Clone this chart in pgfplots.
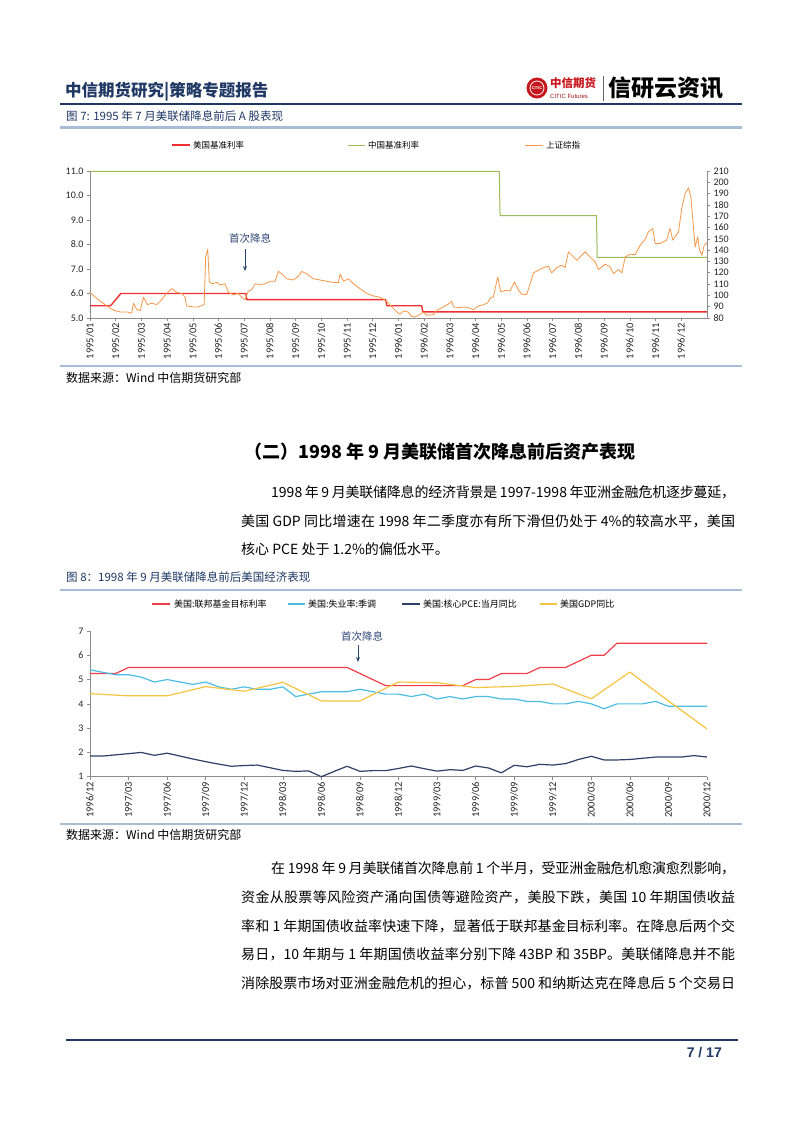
\documentclass[border=0pt]{standalone}
\usepackage{fontspec}
\usepackage{pgfplots}
\pgfplotsset{compat=1.18}
\usetikzlibrary{arrows.meta}
\setmainfont{Liberation Sans}
\newfontfamily\cjk{Noto Sans CJK SC}
\newfontfamily\carlito{Carlito}
\newfontfamily\tms{Liberation Serif}

% glue between CJK characters so that lines can be justified
\XeTeXinterchartokenstate=1
\newXeTeXintercharclass\cjkcls
\def\setcls#1#2{\count255=#1\relax\loop\XeTeXcharclass\count255=\cjkcls\relax\ifnum\count255<#2\relax\advance\count255 by 1\repeat}
\setcls{"3000}{"303F}
\setcls{"4E00}{"9FFF}
\setcls{"FF00}{"FFEF}
\XeTeXinterchartoks\cjkcls\cjkcls={\hskip0pt plus .2em minus .03em\relax}

\definecolor{navytext}{HTML}{1F3864}
\definecolor{band}{HTML}{A7BCD6}
\definecolor{axgray}{HTML}{8C8C8C}
\definecolor{redA}{HTML}{F03030}
\definecolor{greenA}{HTML}{9BBB59}
\definecolor{orangeA}{HTML}{F79646}
\definecolor{redB}{HTML}{EE3F4B}
\definecolor{cyanB}{HTML}{4DBDE6}
\definecolor{navyB}{HTML}{2F3F66}
\definecolor{yellowB}{HTML}{F6C342}
\definecolor{logored}{HTML}{C8161D}
\definecolor{annot}{HTML}{2E4676}

\pgfplotsset{
  pg/.style={scale only axis, width=617pt, xmin=0,
    axis line style={draw=axgray, line width=0.6pt},
    tick style={draw=axgray, line width=0.6pt},
    tick align=outside, major tick length=3pt,
    yticklabel style={font=\carlito\fontsize{10}{11}\selectfont, text=black!85},
    xticklabel style={font=\carlito\fontsize{10.5}{11}\selectfont, text=black!85, rotate=90, anchor=east, inner sep=2pt},
    /pgf/number format/assume math mode=true,
    clip=false,
    every axis plot/.append style={line join=round, no marks, sharp plot}},
}

\begin{document}
\begin{tikzpicture}
\begin{scope}[x=1pt,y=-1pt]
\fill[white] (0,0) rectangle (802,1133);

% header
\node[anchor=west, inner sep=0, text=navytext, font=\cjk\bfseries\fontsize{16.5}{18}\selectfont] at (65,92) {中信期货研究|策略专题报告};
\fill[logored] (537,88) circle (10.5);
\draw[white, line width=0.8pt] (537,88) circle (7);
\node[white, font=\bfseries\fontsize{4}{4}\selectfont, inner sep=0] at (537,88) {CITIC};
\node[anchor=west, inner sep=0, text=logored, font=\cjk\bfseries\fontsize{11.5}{12}\selectfont] at (550,83) {中信期货};
\node[anchor=west, inner sep=0, text=logored!80!black, font=\fontsize{6}{6}\selectfont] at (550,96) {CITIC Futures};
\draw[black!60, line width=0.8pt] (603,76) -- (603,101);
\node[anchor=west, inner sep=0, font=\cjk\bfseries\fontsize{23}{24}\selectfont] at (608,88) {信研云资讯};
\draw[navytext, line width=1.5pt] (60,104) -- (742,104);

% figure 7 caption
\node[anchor=west, inner sep=0, text=navytext, font=\cjk\fontsize{11.5}{12}\selectfont] at (66,116) {图 7: 1995 年 7 月美联储降息前后 A 股表现};
\draw[band, line width=2.5pt] (60,127.5) -- (742,127.5);

% legend of figure 7
\draw[redA, line width=1.4pt] (172,145) -- (190,145);
\node[anchor=west, inner sep=0, font=\cjk\fontsize{8.5}{9}\selectfont] at (193,145) {美国基准利率};
\draw[greenA, line width=1pt] (348,145) -- (365,145);
\node[anchor=west, inner sep=0, font=\cjk\fontsize{8.5}{9}\selectfont] at (368,145) {中国基准利率};
\draw[orangeA, line width=1pt] (525,145) -- (543,145);
\node[anchor=west, inner sep=0, font=\cjk\fontsize{8.5}{9}\selectfont] at (546,145) {上证综指};

% annotation of figure 7
\node[text=annot, font=\cjk\fontsize{10.5}{11}\selectfont] at (250,238) {首次降息};
\draw[annot, line width=0.8pt, -{Stealth[length=5pt,width=4pt]}] (245,249) -- (245,271);

\draw[band, line width=2.5pt] (60,366) -- (742,366);
\node[anchor=west, inner sep=0, font=\cjk\fontsize{12}{13}\selectfont] at (66,378) {数据来源：Wind 中信期货研究部};

% section heading and first paragraph
\node[anchor=west, inner sep=0, font=\cjk\bfseries\fontsize{18}{20}\selectfont] at (244,452) {（二）1998 年 9 月美联储首次降息前后资产表现};
\node[anchor=west, inner sep=0, font=\cjk\fontsize{14}{16}\selectfont] at (271,492) {\hbox to 464pt{1998 年 9 月美联储降息的经济背景是 1997-1998 年亚洲金融危机逐步蔓延，}};
\node[anchor=west, inner sep=0, font=\cjk\fontsize{14}{16}\selectfont] at (241,521) {\hbox to 494pt{美国 GDP 同比增速在 1998 年二季度亦有所下滑但仍处于 4\%的较高水平，美国}};
\node[anchor=west, inner sep=0, font=\cjk\fontsize{14}{16}\selectfont] at (241,549) {核心 PCE 处于 1.2\%的偏低水平。};

% figure 8 caption
\node[anchor=west, inner sep=0, text=navytext, font=\cjk\fontsize{11.5}{12}\selectfont] at (66,577) {图 8：1998 年 9 月美联储降息前后美国经济表现};
\draw[band, line width=2.5pt] (60,590) -- (742,590);

% legend of figure 8
\draw[redB, line width=1.2pt] (152,604) -- (170,604);
\node[anchor=west, inner sep=0, font=\cjk\fontsize{9}{10}\selectfont] at (174,604) {美国:联邦基金目标利率};
\draw[cyanB, line width=1.2pt] (288,604) -- (305,604);
\node[anchor=west, inner sep=0, font=\cjk\fontsize{9}{10}\selectfont] at (308,604) {美国:失业率:季调};
\draw[navyB, line width=1.2pt] (402,604) -- (420,604);
\node[anchor=west, inner sep=0, font=\cjk\fontsize{9}{10}\selectfont] at (423,604) {美国:核心PCE:当月同比};
\draw[yellowB, line width=1.2pt] (540,604) -- (557,604);
\node[anchor=west, inner sep=0, font=\cjk\fontsize{9}{10}\selectfont] at (560,604) {美国GDP同比};

% annotation of figure 8
\node[text=annot, font=\cjk\fontsize{10.5}{11}\selectfont] at (362,636) {首次降息};
\draw[annot, line width=0.8pt, -{Stealth[length=5pt,width=4pt]}] (358,645) -- (358,662);

\draw[band, line width=2.5pt] (60,824) -- (742,824);
\node[anchor=west, inner sep=0, font=\cjk\fontsize{12}{13}\selectfont] at (66,835) {数据来源：Wind 中信期货研究部};

% second paragraph
\node[anchor=west, inner sep=0, font=\cjk\fontsize{14}{16}\selectfont] at (271,868) {\hbox to 464pt{在 1998 年 9 月美联储首次降息前 1 个半月，受亚洲金融危机愈演愈烈影响，}};
\node[anchor=west, inner sep=0, font=\cjk\fontsize{14}{16}\selectfont] at (241,897) {\hbox to 494pt{资金从股票等风险资产涌向国债等避险资产，美股下跌，美国 10 年期国债收益}};
\node[anchor=west, inner sep=0, font=\cjk\fontsize{14}{16}\selectfont] at (241,926) {\hbox to 494pt{率和 1 年期国债收益率快速下降，显著低于联邦基金目标利率。在降息后两个交}};
\node[anchor=west, inner sep=0, font=\cjk\fontsize{14}{16}\selectfont] at (241,954) {\hbox to 494pt{易日，10 年期与 1 年期国债收益率分别下降 43BP 和 35BP。美联储降息并不能}};
\node[anchor=west, inner sep=0, font=\cjk\fontsize{14}{16}\selectfont] at (241,983) {\hbox to 494pt{消除股票市场对亚洲金融危机的担心，标普 500 和纳斯达克在降息后 5 个交易日}};

% footer
\draw[navytext, line width=1.5pt] (66,1040) -- (738,1040);
\node[anchor=east, inner sep=0, text=navytext, font=\bfseries\fontsize{14}{16}\selectfont] at (722,1053) {7 / 17};
\end{scope}

% ---------- figure 7: rates (left) and SSE index (right) ----------
\begin{axis}[pg, at={(90pt,-318pt)}, anchor=south west, height=147pt,
  xmax=24, ymin=5, ymax=11,
  axis x line*=bottom, axis y line*=left,
  xtick={0,...,23},
  xticklabels={1995/01,1995/02,1995/03,1995/04,1995/05,1995/06,1995/07,1995/08,1995/09,1995/10,1995/11,1995/12,
               1996/01,1996/02,1996/03,1996/04,1996/05,1996/06,1996/07,1996/08,1996/09,1996/10,1996/11,1996/12},
  ytick={5,6,...,11},
  yticklabel style={/pgf/number format/.cd, fixed, fixed zerofill, precision=1}]
% US base rate
\addplot[redA, line width=1.4pt] coordinates {(0,5.5) (0.8,5.5) (1.2,6.0) (6.06,6.0) (6.1,5.75) (11.5,5.75) (11.55,5.5) (12.9,5.5) (12.95,5.25) (24,5.25)};
% China base rate
\addplot[greenA, line width=1pt] coordinates {(0,10.98) (15.92,10.98) (15.95,9.18) (19.7,9.18) (19.73,7.47) (24,7.47)};
\end{axis}
\begin{axis}[pg, at={(90pt,-318pt)}, anchor=south west, height=147pt,
  xmax=24, ymin=80, ymax=210,
  axis x line=none, axis y line*=right,
  ytick={80,90,...,210}]
% SSE composite
\addplot[orangeA, line width=0.8pt] coordinates {
(0,102.7) (0.26,97.3) (0.52,93.0) (0.78,88.7) (0.97,86.5) (1.17,85.4) (1.43,85.4) (1.62,84.3) (1.69,93.0) (1.82,87.6)
(1.95,86.5) (2.08,98.4) (2.23,91.9) (2.4,93.0) (2.6,91.9) (2.79,96.3) (2.98,101.7) (3.18,106) (3.37,102.7) (3.57,101.7)
(3.7,98.4) (3.76,90.8) (4.02,89.8) (4.2,89.8) (4.34,90.8) (4.44,91.9) (4.5,134.2) (4.58,140.7) (4.64,112.5) (4.73,110.3)
(4.93,111.4) (5.06,109.3) (5.25,110.3) (5.38,102.7) (5.58,100.6) (5.77,101.7) (5.9,98.4) (6.03,96.3) (6.16,103.8) (6.29,104.9)
(6.42,110.3) (6.61,109.3) (6.81,110.3) (7.0,112.5) (7.2,112.5) (7.33,121.2) (7.46,119) (7.65,114.7) (7.91,113.6) (8.1,116.8)
(8.24,121.2) (8.43,119) (8.69,114.7) (8.95,113.6) (9.21,112.5) (9.47,111.4) (9.66,111.4) (9.73,119) (9.86,112.5) (10.05,114.7)
(10.25,110.3) (10.5,106) (10.77,101.7) (11.02,99.5) (11.28,98.4) (11.52,95.2) (11.74,89.8) (11.93,85.4) (12.06,83.3) (12.19,86.2)
(12.38,85.3) (12.5,81.5) (12.65,80.9) (12.84,83.3) (12.97,85.3) (13.1,82.4) (13.36,83) (13.49,86.8) (13.75,89.8) (14.01,93.3)
(14.07,94.8) (14.14,89.8) (14.33,89.2) (14.59,89.8) (14.78,88.6) (14.91,87.4) (15.11,90.6) (15.3,91.8) (15.46,93.3) (15.59,98)
(15.69,98.6) (15.86,116.3) (15.98,103) (16.15,104.5) (16.34,103.9) (16.51,111.9) (16.67,104.5) (16.8,101) (16.99,100.7) (17.1,109)
(17.25,119.9) (17.44,122.3) (17.64,124.6) (17.83,125.8) (17.96,119.9) (18.16,124.6) (18.35,126.7) (18.48,124.6) (18.61,138.5) (18.74,135.6)
(18.94,131.1) (19.13,135.6) (19.26,138.5) (19.45,134) (19.65,129.6) (19.78,122.8) (20.04,127.6) (20.23,125.2) (20.36,119.3) (20.56,122.8)
(20.69,119.9) (20.82,134) (21.01,136.4) (21.21,136.1) (21.4,144.4) (21.59,149.4) (21.72,156.2) (21.89,159.2) (21.98,145.9) (22.18,145.9)
(22.43,148.9) (22.56,159.2) (22.67,148.9) (22.89,156.2) (23.02,177) (23.15,190.2) (23.28,195.2) (23.37,187.3) (23.54,142.9) (23.64,151.8)
(23.71,140) (23.8,135.6) (23.89,144.4) (24.0,146.5)};
\end{axis}

% ---------- figure 8: US economy ----------
\begin{axis}[pg, at={(90pt,-776.7pt)}, anchor=south west, height=145.7pt,
  xmax=48, ymin=1, ymax=7,
  axis x line*=bottom, axis y line*=left,
  xtick={0,3,...,48},
  xticklabels={1996/12,1997/03,1997/06,1997/09,1997/12,1998/03,1998/06,1998/09,1998/12,
               1999/03,1999/06,1999/09,1999/12,2000/03,2000/06,2000/09,2000/12},
  ytick={1,...,7}]
% fed funds target
\addplot[redB, line width=1.2pt] coordinates {(0,5.25) (2,5.25) (3,5.5) (20,5.5) (21,5.25) (22,5.0) (23,4.75) (29,4.75) (30,5.0) (31,5.0)
  (32,5.25) (34,5.25) (35,5.5) (37,5.5) (38,5.75) (39,6.0) (40,6.0) (41,6.5) (48,6.5)};
% unemployment rate
\addplot[cyanB, line width=1.2pt] coordinates {(0,5.4) (1,5.3) (2,5.2) (3,5.2) (4,5.1) (5,4.9) (6,5.0) (7,4.9) (8,4.8) (9,4.9)
  (10,4.7) (11,4.6) (12,4.7) (13,4.6) (14,4.6) (15,4.7) (16,4.3) (17,4.4) (18,4.5) (19,4.5) (20,4.5) (21,4.6) (22,4.5) (23,4.4)
  (24,4.4) (25,4.3) (26,4.4) (27,4.2) (28,4.3) (29,4.2) (30,4.3) (31,4.3) (32,4.2) (33,4.2) (34,4.1) (35,4.1) (36,4.0) (37,4.0)
  (38,4.1) (39,4.0) (40,3.8) (41,4.0) (42,4.0) (43,4.0) (44,4.1) (45,3.9) (46,3.9) (47,3.9) (48,3.9)};
% core PCE yoy
\addplot[navyB, line width=1.2pt] coordinates {(0,1.85) (1,1.85) (2,1.9) (3,1.95) (4,2.0) (5,1.88) (6,1.97) (7,1.85) (8,1.73) (9,1.62)
  (10,1.52) (11,1.43) (12,1.46) (13,1.48) (14,1.37) (15,1.26) (16,1.22) (17,1.24) (18,1.0) (19,1.22) (20,1.43) (21,1.22) (22,1.25)
  (23,1.25) (24,1.34) (25,1.44) (26,1.33) (27,1.23) (28,1.29) (29,1.26) (30,1.44) (31,1.36) (32,1.16) (33,1.47) (34,1.41) (35,1.51)
  (36,1.48) (37,1.54) (38,1.71) (39,1.84) (40,1.69) (41,1.69) (42,1.71) (43,1.76) (44,1.81) (45,1.81) (46,1.81) (47,1.87) (48,1.81)};
% GDP yoy (quarterly)
\addplot[yellowB, line width=1.2pt] coordinates {(0,4.42) (3,4.33) (6,4.33) (9,4.71) (12,4.52) (15,4.89) (18,4.12) (21,4.12) (24,4.9)
  (27,4.87) (30,4.67) (33,4.72) (36,4.82) (39,4.21) (42,5.31) (45,4.12) (48,2.97)};
\end{axis}

\pgfresetboundingbox
\path[use as bounding box] (0pt,0pt) rectangle (802pt,-1133pt);
\end{tikzpicture}
\end{document}
